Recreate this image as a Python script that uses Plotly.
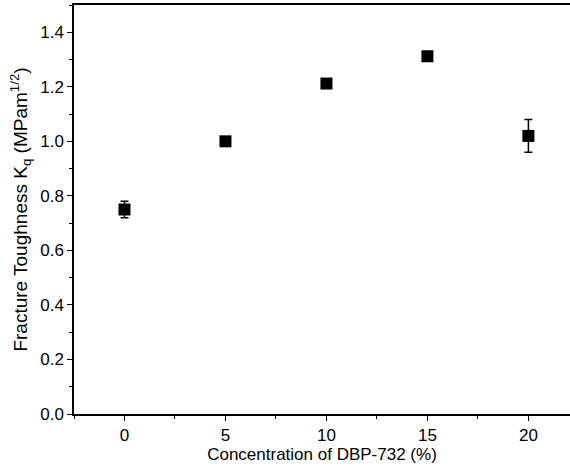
import plotly.graph_objects as go

concentration = [0, 5, 10, 15, 20]
toughness = [0.75, 1.0, 1.212, 1.312, 1.02]
toughness_err = [0.03, 0.006, 0.006, 0.006, 0.06]

x_tickvals = [0, 5, 10, 15, 20]
y_tickvals = [0.0, 0.2, 0.4, 0.6, 0.8, 1.0, 1.2, 1.4]

fig = go.Figure()
fig.add_trace(go.Scatter(
    x=concentration, y=toughness,
    mode="markers",
    marker=dict(symbol="square", size=12, color="black"),
    error_y=dict(type="data", array=toughness_err, visible=True,
                 color="black", thickness=1.5, width=4),
    showlegend=False,
))

font = "Liberation Sans, Arial, sans-serif"
fig.update_layout(
    width=570, height=466,
    margin=dict(l=74, r=0, t=5, b=52),
    paper_bgcolor="white", plot_bgcolor="white",
    font=dict(family=font, size=17, color="black"),
)
fig.update_xaxes(
    range=[-2.5, 22.06],
    tickmode="array", tickvals=x_tickvals,
    ticks="outside", ticklen=5, tickwidth=1.2, tickcolor="black",
    minor=dict(dtick=2.5, ticks="outside", ticklen=3, tickwidth=1.2, tickcolor="black", showgrid=False),
    showline=True, linecolor="black", linewidth=1.5, mirror=True,
    showgrid=False, zeroline=False,
    title=dict(text="Concentration of DBP-732 (%)", standoff=3, font=dict(size=17)),
    tickfont=dict(size=17),
)
fig.update_yaxes(
    range=[0, 1.5],
    tickmode="array", tickvals=y_tickvals, tickformat=".1f",
    ticks="outside", ticklen=5, tickwidth=1.2, tickcolor="black",
    minor=dict(dtick=0.1, ticks="outside", ticklen=3, tickwidth=1.2, tickcolor="black", showgrid=False),
    showline=True, linecolor="black", linewidth=1.5,
    showgrid=False, zeroline=False,
    title=dict(text="Fracture Toughness K<sub>q</sub> (MPam<sup>1/2</sup>)", standoff=8, font=dict(size=19)),
    tickfont=dict(size=17),
)

fig.write_html(
    "out.html",
    config={"displayModeBar": False},
    post_script="document.body.style.margin='0';document.body.style.overflow='hidden';",
)
